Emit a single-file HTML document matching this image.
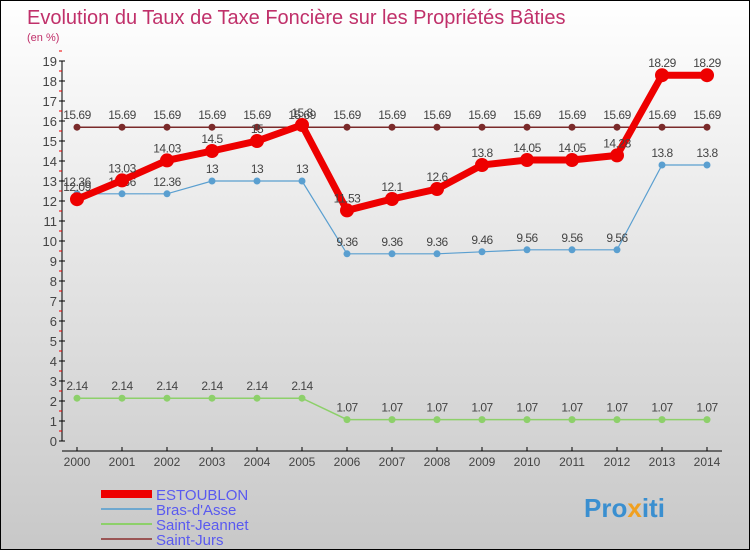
<!DOCTYPE html>
<html><head><meta charset="utf-8"><style>
body{margin:0}
#c{width:748px;height:548px;border:1px solid #000;background:linear-gradient(#fff,#c8c8c8);position:relative;overflow:hidden;font-family:"Liberation Sans",sans-serif}
</style></head><body>
<div id="c">
<svg id="s" width="748" height="548" style="position:absolute;left:0;top:0">
<text x="26" y="23" font-size="20" fill="#c0306a">Evolution du Taux de Taxe Foncière sur les Propriétés Bâties</text>
<text x="26" y="40" font-size="11" fill="#c0306a">(en %)</text>
<g id="g"></g>
<g>
<rect x="100" y="489" width="51" height="8" fill="#e00"/>
<text x="155" y="499" font-size="15" fill="#5a5af0">ESTOUBLON</text>
<line x1="100" y1="508" x2="151" y2="508" stroke="#6fa8cf" stroke-width="2"/>
<text x="155" y="514" font-size="15" fill="#5a5af0">Bras-d'Asse</text>
<line x1="100" y1="523" x2="151" y2="523" stroke="#8dd06a" stroke-width="2"/>
<text x="155" y="529" font-size="15" fill="#5a5af0">Saint-Jeannet</text>
<line x1="100" y1="538" x2="151" y2="538" stroke="#9a5555" stroke-width="2"/>
<text x="155" y="544" font-size="15" fill="#5a5af0">Saint-Jurs</text>
</g>
<text x="583" y="516" font-size="26" font-weight="bold" fill="#3a8fd0">Pro<tspan fill="#f0a020">x</tspan>iti</text>
</svg>
</div>
<script>
const years=[2000,2001,2002,2003,2004,2005,2006,2007,2008,2009,2010,2011,2012,2013,2014];
const yTicks=[0,1,2,3,4,5,6,7,8,9,10,11,12,13,14,15,16,17,18,19];
const estoublon=[12.09,13.03,14.03,14.5,15,15.8,11.53,12.1,12.6,13.8,14.05,14.05,14.28,18.29,18.29];
const brasDAsse=[12.36,12.36,12.36,13,13,13,9.36,9.36,9.36,9.46,9.56,9.56,9.56,13.8,13.8];
const saintJeannet=[2.14,2.14,2.14,2.14,2.14,2.14,1.07,1.07,1.07,1.07,1.07,1.07,1.07,1.07,1.07];
const saintJurs=[15.69,15.69,15.69,15.69,15.69,15.69,15.69,15.69,15.69,15.69,15.69,15.69,15.69,15.69,15.69];
const NS="http://www.w3.org/2000/svg";
const g=document.getElementById('g');
const X=i=>76+45*i, Y=v=>440-20*v;
function el(t,a,p){const e=document.createElementNS(NS,t);for(const k in a)e.setAttribute(k,a[k]);(p||g).appendChild(e);return e;}
let ax=el('line',{x1:61,y1:60,x2:61,y2:440,stroke:'#000'});


yTicks.forEach(v=>{
 el('line',{x1:58,y1:Y(v),x2:64,y2:Y(v),stroke:'#000'});
 el('line',{x1:58,y1:Y(v)-10,x2:61,y2:Y(v)-10,stroke:'#e00'});
 const t=el('text',{x:56,y:Y(v)+5,'font-size':13,fill:'#444','text-anchor':'end'});t.textContent=v;
 
 
});
let xa=el('line',{x1:61,y1:450,x2:721,y2:450,stroke:'#000'});


years.forEach((y,i)=>{
 el('line',{x1:X(i),y1:446,x2:X(i),y2:450,stroke:'#000'});
 const t=el('text',{x:X(i),y:465,'font-size':12,fill:'#444','text-anchor':'middle'});t.textContent=y;
 
 
});
function series(data,color,w,r,name){
 const p=el('polyline',{points:data.map((v,i)=>X(i)+','+Y(v)).join(' '),fill:'none',stroke:color,'stroke-width':w});
 
 
 data.forEach((v,i)=>{
  const c=el('circle',{cx:X(i),cy:Y(v),r:r,fill:color});
  
  
  const t=el('text',{x:X(i),y:Y(v)-8,'font-size':12,fill:'#444','text-anchor':'middle','letter-spacing':'-0.5'});t.textContent=v;
  
  
 });
}
series(saintJurs,'#7a2a2a',1.5,3.5,'saint-jurs');
series(saintJeannet,'#8dd06a',1.5,3.5,'saint-jeannet');
series(brasDAsse,'#5a9fd0',1.2,3.5,'bras-d-asse');
series(estoublon,'#e00',7,7,'estoublon');
</script>
</body></html>
